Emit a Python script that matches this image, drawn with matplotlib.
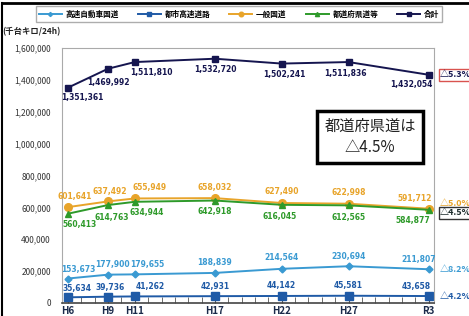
import matplotlib
matplotlib.use("Agg")
import matplotlib.pyplot as plt
from matplotlib.lines import Line2D

plt.rcParams['font.family'] = ['Noto Sans CJK JP', 'DejaVu Sans']

years = [1994, 1997, 1999, 2005, 2010, 2015, 2021]
xlabels = ["H6", "H9", "H11", "H17", "H22", "H27", "R3"]

expressway = [153673, 177900, 179655, 188839, 214564, 230694, 211807]
urban_expy = [35634, 39736, 41262, 42931, 44142, 45581, 43658]
national = [601641, 637492, 655949, 658032, 627490, 622998, 591712]
prefectural = [560413, 614763, 634944, 642918, 616045, 612565, 584877]
total = [1351361, 1469992, 1511810, 1532720, 1502241, 1511836, 1432054]

names = ["高速自動車国道", "都市高速道路", "一般国道", "都道府県道等", "合計"]
changes = ["△8.2%", "△4.2%", "△5.0%", "△4.5%", "△5.3%"]

c_exp = "#3a9ad2"
c_urb = "#1f5aa6"
c_nat = "#e8a42a"
c_pref = "#2e9a2a"
c_tot = "#15154f"

fig = plt.figure(figsize=(4.69, 3.16), dpi=100)
ax = fig.add_axes([62/469, 13/316, (434-62)/469, (303-48)/316])

ax.plot(years, expressway, color=c_exp, marker="D", ms=3.5, lw=1.4, label=names[0])
ax.plot(years, urban_expy, color=c_urb, marker="s", ms=6, lw=1.4, label=names[1])
ax.plot(years, national, color=c_nat, marker="o", ms=5.5, lw=1.4, label=names[2])
ax.plot(years, prefectural, color=c_pref, marker="^", ms=5, lw=1.4, label=names[3])
ax.plot(years, total, color=c_tot, marker="s", ms=5, lw=1.4, label=names[4])

ax.set_xlim(1993.55, 2021.4)
ax.set_ylim(0, 1600000)
ax.set_xticks(years)
ax.set_xticklabels(xlabels, fontsize=7, fontweight="bold", color="#1a2a4a")
ax.set_xticks(range(1994, 2022), minor=True)
ax.tick_params(axis="x", which="both", direction="in", length=4, color="#555555", pad=2)
ax.set_yticks(range(0, 1600001, 200000))
ax.set_yticklabels([f"{v:,}" for v in range(0, 1600001, 200000)], fontsize=6, color="#333333")
ax.tick_params(axis="y", direction="in", length=0, pad=8)
for s in ["top", "right", "left"]:
    ax.spines[s].set_color("#aaaaaa")
ax.spines["bottom"].set_color("#444444")
ax.spines["bottom"].set_linewidth(1.2)

def lab(vals, color, offsets):
    for x, v, (dx, dy) in zip(years, vals, offsets):
        ax.annotate(f"{v:,}", (x, v), xytext=(dx, dy), textcoords="offset pixels",
                    ha="center", va="center", fontsize=5.5, fontweight="bold",
                    color=color, family="DejaVu Sans")

lab(total, c_tot, [(14, -10), (0, -14), (17, -10), (0, -11), (3, -11), (-3, -11), (-17, -10)])
lab(national, c_nat, [(7, 11), (2, 10), (15, 11), (0, 11), (0, 11), (0, 11), (-14, 10)])
lab(prefectural, c_pref, [(12, -11), (4, -12), (12, -11), (0, -11), (-2, -12), (0, -12), (-16, -11)])
lab(expressway, c_exp, [(10, 9), (4, 10), (12, 10), (0, 10), (0, 11), (0, 10), (-10, 10)])
lab(urban_expy, c_urb, [(9, 9), (2, 9), (15, 10), (0, 10), (0, 10), (0, 10), (-12, 10)])

# right-hand change labels
def rlab(y, text, color, edge=None):
    kw = dict(fontsize=6.5, color=color, ha="left", va="center", fontweight="bold")
    if edge:
        kw["bbox"] = dict(boxstyle="square,pad=0.15", fc="white", ec=edge, lw=1)
    ax.annotate(text, (1, y), xycoords=("axes fraction", "data"), xytext=(6, 0),
                textcoords="offset pixels", annotation_clip=False, **kw)

rlab(total[-1], changes[4], c_tot, edge="#d9534f")
rlab(national[-1] + 30000, changes[2], c_nat)
rlab(prefectural[-1] - 20000, changes[3], "#1a2a2a", edge="#333333")
rlab(expressway[-1], changes[0], c_exp)
rlab(urban_expy[-1], changes[1], c_urb)

# annotation box
fig.text(370/469, 1 - 137/316, "都道府県道は\n△4.5%", ha="center", va="center",
         fontsize=11, color="#222222", linespacing=1.3,
         bbox=dict(boxstyle="square,pad=0.45", fc="white", ec="black", lw=2.5))

fig.text(2/469, 1 - 32/316, "(千台キロ/24h)", fontsize=6, fontweight="bold",
         ha="left", va="center", color="#222222")

handles, labels = ax.get_legend_handles_labels()
leg = fig.legend(handles, labels, loc="center", bbox_to_anchor=(239/469, 1 - 14/316),
                 ncol=5, fontsize=5.5, frameon=True, fancybox=False, edgecolor="#999999",
                 handlelength=3.0, columnspacing=2.5, handletextpad=0.5,
                 borderpad=0.4, borderaxespad=0, markerscale=0.6)
for t in leg.get_texts():
    t.set_fontweight("bold")

# outer frame lines
fig.add_artist(Line2D([0.004, 1], [1 - 3/316, 1 - 3/316], color="black", lw=2, transform=fig.transFigure))
fig.add_artist(Line2D([0.004, 0.004], [0, 1 - 3/316], color="black", lw=1.5, transform=fig.transFigure))

fig.savefig("out.png", dpi=100)
